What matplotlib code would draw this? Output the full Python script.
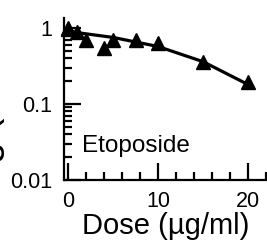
import numpy as np
import matplotlib
matplotlib.use('Agg')
import matplotlib.pyplot as plt
from matplotlib.ticker import LogLocator, FixedLocator, NullFormatter

plt.rcParams['font.family'] = ['Liberation Sans', 'DejaVu Sans']

# data
dose = [0, 0, 1, 2, 4, 5, 7.5, 10, 15, 20]
surv = [1.0, 0.98, 0.88, 0.70, 0.54, 0.70, 0.70, 0.63, 0.36, 0.196]

fit_dose = [0, 5, 10, 15, 20]
fit_surv = [0.90, 0.75, 0.57, 0.36, 0.18]

x_major = [0, 10, 20]
x_minor = [2, 4, 6, 8, 12, 14, 16, 18, 22]
y_major = [0.01, 0.1, 1]
y_labels = ['0.01', '0.1', '1']

fig = plt.figure(figsize=(2.67, 2.42), dpi=100)
ax = fig.add_axes([0.2397, 0.256, 0.7603, 0.6696])

ax.plot(fit_dose, fit_surv, color='black', lw=2.3, zorder=2)
ax.plot(dose, surv, linestyle='none', marker='^', ms=10, color='black', zorder=3, clip_on=False)

ax.set_yscale('log')
ax.set_xlim(-0.44, 22.1)
ax.set_ylim(0.01, 1.35)

ax.xaxis.set_major_locator(FixedLocator(x_major))
ax.xaxis.set_minor_locator(FixedLocator(x_minor))
ax.yaxis.set_major_locator(FixedLocator(y_major))
ax.set_yticklabels(y_labels)
ax.yaxis.set_minor_locator(LogLocator(base=10, subs=np.arange(2, 10)))
ax.yaxis.set_minor_formatter(NullFormatter())

for s in ['top', 'right']:
    ax.spines[s].set_visible(False)
for s in ['left', 'bottom']:
    ax.spines[s].set_linewidth(1.6)

ax.tick_params(which='major', direction='in', length=12, width=1.6, labelsize=15.5)
ax.tick_params(which='minor', direction='in', length=6, width=1.6)
ax.tick_params(axis='x', pad=8)
ax.tick_params(axis='y', pad=8.5)

ax.text(0.089, 0.173, 'Etoposide', transform=ax.transAxes, fontsize=17.5, va='baseline', ha='left')
ax.set_xlabel('Dose (\u00b5g/ml)', fontsize=21, labelpad=0)

# y label of the panel, mostly outside the cropped figure
fig.text(0.018, 0.148, 'Log (surviving fraction)', rotation=90, fontsize=28, ha='right', va='bottom')

fig.savefig('out.png', dpi=100)
